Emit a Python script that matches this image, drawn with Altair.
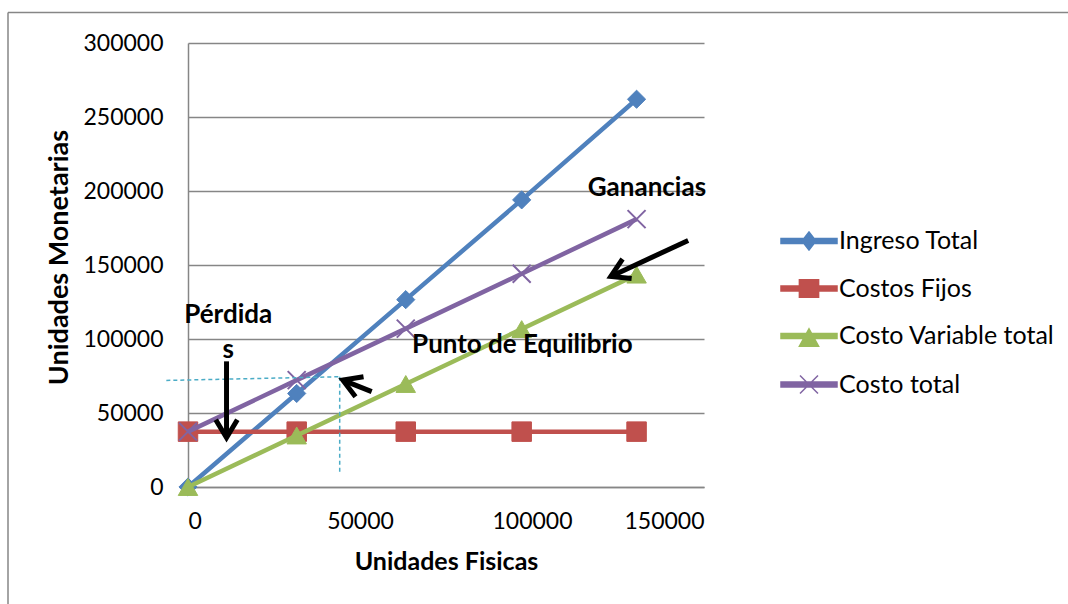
import math
import altair as alt
import pandas as pd

# ---------------- data ----------------
unidades = [0, 31600, 63300, 97000, 130400]
ingreso_total = [0, 63200, 126600, 194000, 262000]
costos_fijos = [37400, 37400, 37400, 37400, 37400]
costo_variable = [0, 34800, 69600, 106700, 143500]
costo_total = [37400, 72200, 107000, 144100, 181000]

series = ["Ingreso Total", "Costos Fijos", "Costo Variable total", "Costo total"]
colors = ["#4F81BD", "#C0504D", "#9BBB59", "#8064A2"]

x_ticks = [0, 50000, 100000, 150000]
y_ticks = [0, 50000, 100000, 150000, 200000, 250000, 300000]

# annotations (data coordinates)
ann_text = ["Ganancias", "Punto de Equilibrio", "Pérdida\ns"]
ann_x = [133400, 97200, 11700]
ann_y = [196800, 90500, 110800]

# arrows: tail (x1,y1) -> tip (x2,y2)
arrow_x1 = [11200, 53400, 145400]
arrow_y1 = [84900, 64400, 166600]
arrow_x2 = [11200, 45000, 122900]
arrow_y2 = [33300, 72200, 142300]

# dashed break-even guides
guide_x1 = [-6300, 44100]
guide_y1 = [72000, 74500]
guide_x2 = [44100, 44100]
guide_y2 = [74500, 10300]

# ---------------- layout ----------------
W, H = 516, 444
XMAX, YMAX = 150000, 300000
FONT = "Lato"

rows = []
for name, vals in zip(series, [ingreso_total, costos_fijos, costo_variable, costo_total]):
    for u, v in zip(unidades, vals):
        rows.append({"serie": name, "u": u, "v": v})
df = pd.DataFrame(rows)

sx, sy = W / XMAX, H / YMAX
angles = []
for a, b, c, d in zip(arrow_x1, arrow_y1, arrow_x2, arrow_y2):
    dx = (c - a) * sx
    dy = -(d - b) * sy
    angles.append(math.degrees(math.atan2(dx, -dy)) % 360)
arrows = pd.DataFrame({"x1": arrow_x1, "y1": arrow_y1, "x2": arrow_x2, "y2": arrow_y2, "ang": angles})
guides = pd.DataFrame({"x1": guide_x1, "y1": guide_y1, "x2": guide_x2, "y2": guide_y2})
notes = pd.DataFrame({"t": ann_text, "x": ann_x, "y": ann_y})

xscale = alt.Scale(domain=[0, XMAX], nice=False, zero=False)
yscale = alt.Scale(domain=[0, YMAX], nice=False)

x_enc = alt.X("u:Q", scale=xscale,
              axis=alt.Axis(values=x_ticks, format="d", title="Unidades Fisicas", grid=False,
                            ticks=False, labelPadding=23, titlePadding=16))
y_enc = alt.Y("v:Q", scale=yscale,
              axis=alt.Axis(values=y_ticks, format="d", title="Unidades Monetarias", grid=True,
                            ticks=False, labelPadding=25, titlePadding=9, titleFontSize=27,
                            titleY=214))

marker_shapes = ["diamond", "square", "triangle-up", "M-1,-1L1,1M-1,1L1,-1"]
marker_sizes = [330, 380, 380, 324]
marker_strokes = [1, 1, 1, 2]
series_layers = []
for i, (name, col, shp, sz, sw) in enumerate(zip(series, colors, marker_shapes, marker_sizes, marker_strokes)):
    base = alt.Chart(df).transform_filter(alt.datum.serie == name)
    if i == 0:
        ln = base.mark_line(strokeWidth=4.5, color=col).encode(x=x_enc, y=y_enc)
    else:
        ln = base.mark_line(strokeWidth=4.5, color=col).encode(x="u:Q", y="v:Q")
    pt = base.mark_point(shape=shp, size=sz, filled=True, fill=col, stroke=col,
                         strokeWidth=sw, opacity=1).encode(x="u:Q", y="v:Q")
    series_layers += [ln, pt]

# legend (line + marker symbols); unit box = 48 px, line spans 56 px
line_path = "M-1.167,-0.104L1.167,-0.104L1.167,0.104L-1.167,0.104Z"
legend_paths = [
    line_path + "M0,-0.375L0.29,0L0,0.375L-0.29,0Z",
    line_path + "M-0.4,-0.36L0.4,-0.36L0.4,0.36L-0.4,0.36Z",
    line_path + "M0,-0.3L0.4,0.43L-0.4,0.43Z",
    line_path + "M-0.375,-0.375L0.375,0.375M-0.375,0.375L0.375,-0.375",
]
leg = alt.Legend(orient="none", legendX=596, legendY=173, title=None, labelFont=FONT,
                 labelFontSize=25, labelColor="black", labelLimit=400, symbolSize=2304,
                 symbolStrokeWidth=1.5, rowPadding=9.5, labelOffset=5, padding=0,
                 symbolOpacity=1, type="symbol")
legend_layer = alt.Chart(df).mark_point(filled=True, opacity=0, size=2304).encode(
    x="u:Q", y="v:Q",
    fill=alt.Fill("serie:N", scale=alt.Scale(domain=series, range=colors), legend=leg),
    stroke=alt.Stroke("serie:N", scale=alt.Scale(domain=series, range=colors), legend=leg),
    shape=alt.Shape("serie:N", scale=alt.Scale(domain=series, range=legend_paths), legend=leg),
)

guide_layer = alt.Chart(guides).mark_rule(color="#4BACC6", strokeWidth=1.5, strokeDash=[4, 3]).encode(
    x="x1:Q", y="y1:Q", x2="x2:Q", y2="y2:Q")

shafts = alt.Chart(arrows).mark_rule(color="black", strokeWidth=5).encode(
    x="x1:Q", y="y1:Q", x2="x2:Q", y2="y2:Q")
heads = alt.Chart(arrows).mark_point(shape="M-0.6,1L0,0L0.6,1", filled=False, stroke="black",
                                     strokeWidth=5, size=1296, opacity=1).encode(
    x="x2:Q", y="y2:Q", angle=alt.Angle("ang:Q", scale=None))

texts = alt.Chart(notes).mark_text(font=FONT, fontWeight="bold", fontSize=26, align="center",
                                   baseline="alphabetic", lineBreak="\n", lineHeight=35,
                                   color="black").encode(x="x:Q", y="y:Q", text="t:N")

frame_df = pd.DataFrame({"k": [0]})
frame_top = alt.Chart(frame_df).mark_rule(color="#868686", strokeWidth=1.5).encode(
    x=alt.value(-180), x2=alt.value(900), y=alt.value(-30.5))
frame_left = alt.Chart(frame_df).mark_rule(color="#868686", strokeWidth=1.5).encode(
    x=alt.value(-180), y=alt.value(-30.5), y2=alt.value(600))

chart = alt.layer(
    frame_top, frame_left, *series_layers, legend_layer, guide_layer, shafts, heads, texts
).properties(
    width=W, height=H,
    padding={"left": 188, "top": 43, "right": 364, "bottom": 117},
    autosize=alt.AutoSizeParams(type="none"),
).configure_view(stroke=None).configure_axis(
    domainColor="#868686", domainWidth=1.5, gridColor="#868686", gridWidth=1.5,
    labelFont=FONT, labelFontSize=23, labelColor="black",
    titleFont=FONT, titleFontSize=25, titleFontWeight="bold", titleColor="black",
)

chart.save("out.html", embed_options={"renderer": "svg", "actions": False})
